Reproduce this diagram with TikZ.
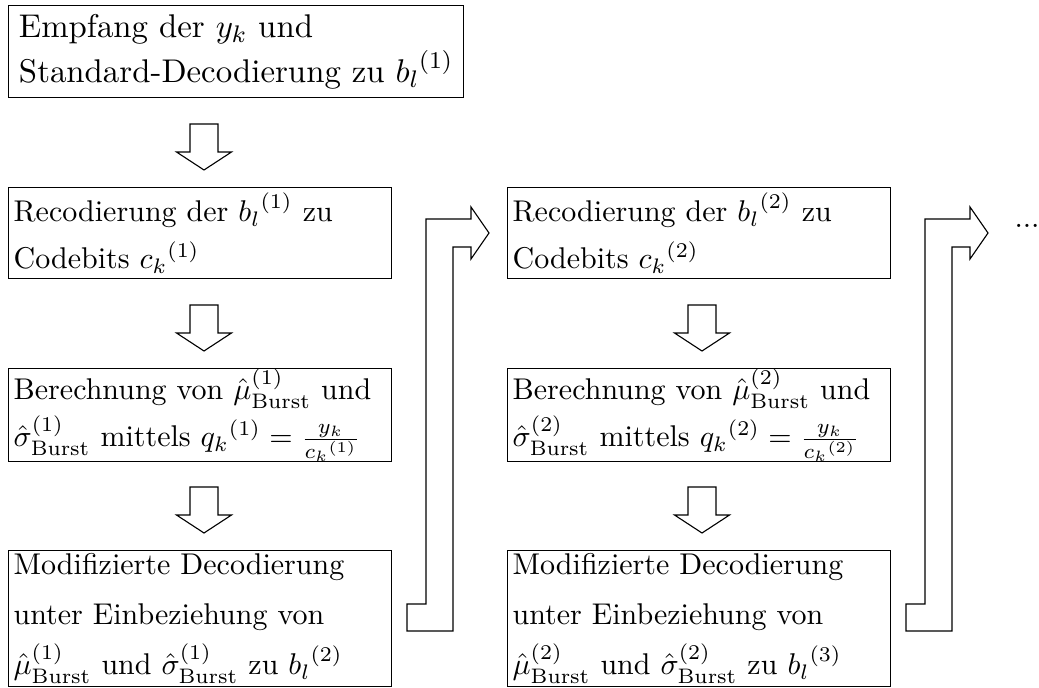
\documentclass[tikz,border=0pt]{standalone}
\usepackage{amsmath}
\usepackage{fontspec}
\usepackage{tikz}

\begin{document}
\begin{tikzpicture}[x=0.3333pt,y=-0.3333pt,
    stepbox/.style={draw, line width=0.37pt, anchor=north west, align=left,
        inner xsep=1.7pt, inner ysep=0pt, font=\fontsize{10}{15.6}\selectfont},
    downarr/.pic={\draw[line width=0.37pt] (-14,0) -- (14,0) -- (14,28) -- (27.5,28)
        -- (0,46) -- (-27.5,28) -- (-14,28) -- cycle;},
    bentarr/.pic={\draw[line width=0.37pt] (0,0) -- (45,0) -- (45,-12) -- (63,14)
        -- (45,40) -- (45,28) -- (27,28) -- (27,412) -- (-19,412) -- (-19,385)
        -- (0,385) -- cycle;}]
    \useasboundingbox (0,0) rectangle (1039,688);

    % Empfang
    \node[stepbox, minimum width=151.7pt, inner xsep=0pt, minimum height=30.7pt,
          font=\fontsize{10.95}{15}\selectfont] (empf) at (8,5)
        {Empfang der $y_k$ und\\Standard-Decodierung zu ${b_l}^{(1)}$};

    % Durchlauf 1
    \node[stepbox, text width=124.3pt, minimum height=30.3pt] (reco1) at (8,187)
        {Recodierung der ${b_l}^{(1)}$ zu\\Codebits ${c_k}^{(1)}$};
    \node[stepbox, text width=124.3pt, minimum height=31pt] (bere1) at (8,368)
        {Berechnung von $\hat{\mu}_{\text{Burst}}^{(1)}$ und\\
         $\hat{\sigma}_{\text{Burst}}^{(1)}$ mittels ${q_k}^{(1)}=\frac{y_k}{{c_k}^{(1)}}$};
    \node[stepbox, text width=124.3pt, minimum height=45.3pt,
          font=\fontsize{10}{16.7}\selectfont] (modi1) at (8,550)
        {Modifizierte Decodierung\\unter Einbeziehung von\\
         $\hat{\mu}_{\text{Burst}}^{(1)}$ und $\hat{\sigma}_{\text{Burst}}^{(1)}$ zu ${b_l}^{(2)}$};

    % Durchlauf 2
    \node[stepbox, text width=124.3pt, minimum height=30.3pt] (reco2) at (507,187)
        {Recodierung der ${b_l}^{(2)}$ zu\\Codebits ${c_k}^{(2)}$};
    \node[stepbox, text width=124.3pt, minimum height=31pt] (bere2) at (507,368)
        {Berechnung von $\hat{\mu}_{\text{Burst}}^{(2)}$ und\\
         $\hat{\sigma}_{\text{Burst}}^{(2)}$ mittels ${q_k}^{(2)}=\frac{y_k}{{c_k}^{(2)}}$};
    \node[stepbox, text width=124.3pt, minimum height=45.3pt,
          font=\fontsize{10}{16.7}\selectfont] (modi2) at (507,550)
        {Modifizierte Decodierung\\unter Einbeziehung von\\
         $\hat{\mu}_{\text{Burst}}^{(2)}$ und $\hat{\sigma}_{\text{Burst}}^{(2)}$ zu ${b_l}^{(3)}$};

    % Pfeile nach unten
    \pic at (204,124) {downarr};
    \pic at (204,305) {downarr};
    \pic at (204,487) {downarr};
    \pic at (702,305) {downarr};
    \pic at (702,487) {downarr};

    % Pfeile zum naechsten Durchlauf
    \pic at (426,219) {bentarr};
    \pic at (925,219) {bentarr};
    \node[font=\fontsize{10}{15.6}\selectfont] (dots) at (1027,226) {...};
\end{tikzpicture}
\end{document}
